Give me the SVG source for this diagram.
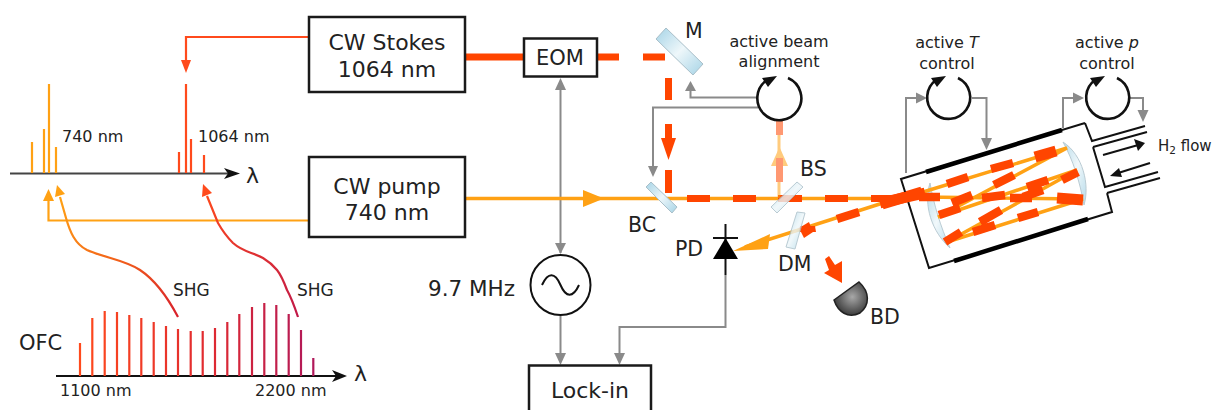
<svg xmlns="http://www.w3.org/2000/svg" width="1216" height="410" viewBox="0 0 1216 410">
<style>
text{font-family:"DejaVu Sans",Verdana,sans-serif;fill:#222}
.box{fill:#fff;stroke:#1a1a1a;stroke-width:2.5}
.big{font-size:22px;text-anchor:middle}
.lab{font-size:20.5px}
.sm{font-size:16px}
.ctl{font-size:16px;text-anchor:middle}
.g{fill:none;stroke:#8a8a8a;stroke-width:2}
.gh{fill:#8a8a8a}
.blk{fill:none;stroke:#111;stroke-width:2}
.c{fill:none;stroke:#111;stroke-width:2.6}
.o{fill:none;stroke:#ffa114;stroke-width:3.5}
.r{fill:none;stroke:#ff4500;stroke-width:7}
.rc{fill:none;stroke:#ff4500;stroke-width:8.5}
.rt{fill:none;stroke:#ff4500;stroke-width:11}
.ol{fill:none;stroke:#ffa114;stroke-width:2.2}
.rl{fill:none;stroke:#ff4a1c;stroke-width:2.2}
.opt{fill:url(#glass);stroke:#a9bfc9;stroke-width:1}
</style>
<defs>
<linearGradient id="glass" x1="0" y1="0" x2="1" y2="1"><stop offset="0" stop-color="#a5d3e6"/><stop offset=".5" stop-color="#eef7fa"/><stop offset="1" stop-color="#a5d3e6"/></linearGradient>
<linearGradient id="comb" gradientUnits="userSpaceOnUse" x1="80" y1="0" x2="314" y2="0"><stop offset="0" stop-color="#ff4a1c"/><stop offset=".55" stop-color="#e02a30"/><stop offset="1" stop-color="#b0185a"/></linearGradient>
<linearGradient id="shg1" gradientUnits="userSpaceOnUse" x1="60" y1="200" x2="178" y2="317"><stop offset="0" stop-color="#ffa114"/><stop offset=".5" stop-color="#f2601a"/><stop offset="1" stop-color="#d8202c"/></linearGradient>
<linearGradient id="shg2" gradientUnits="userSpaceOnUse" x1="205" y1="190" x2="298" y2="317"><stop offset="0" stop-color="#ff4a1c"/><stop offset="1" stop-color="#c01848"/></linearGradient>
<radialGradient id="bd" cx=".55" cy=".45" r=".6"><stop offset="0" stop-color="#a8a8a8"/><stop offset="1" stop-color="#333"/></radialGradient>
</defs>

<g id="connectors">
<path d="M309 37H186V62" class="rl"/><path d="M181 60L191 60L186 73Z" fill="#ff4a1c"/>
<path d="M309 220.500H48.500V198" class="ol"/><path d="M43 201L54 201L48.500 189Z" fill="#ffa114"/>
<path d="M178 317C168 298 155 280 140 270C125 260 105 258 87 250C75 244 70 232 66 218L60 197" fill="none" stroke="url(#shg1)" stroke-width="2.2"/><path d="M55 197L65 194L57 185Z" fill="#ffa114"/>
<path d="M298 317C294 305 291 297 287 290C284 282 281 275 277 270C272 264 268 261 263 258C252 252 243 252 233 243C226 236 222 230 218 223L207 196" fill="none" stroke="url(#shg2)" stroke-width="2.2"/><path d="M202 197L212 193L203 184Z" fill="#ff4a1c"/>
<path d="M560.500 88V253" class="g"/><path d="M555 90L566 90L560.500 78Z" class="gh"/><path d="M555 243L566 243L560.500 254Z" class="gh"/>
<path d="M560.500 316V355" class="g"/><path d="M555 353L566 353L560.500 365Z" class="gh"/>
<path d="M758 97.500H690.500V90" class="g"/><path d="M685 91L696 91L690.500 81Z" class="gh"/>
<path d="M758 107.500H653V168" class="g"/><path d="M648 166L658 166L653 177Z" class="gh"/>
<path d="M725.500 275V327H619.500V355" class="g"/><path d="M614 353L625 353L619.500 365Z" class="gh"/>
<path d="M906 173V98H918" class="g"/><path d="M916 92.500L916 103.500L927 98Z" class="gh"/>
<path d="M972 98H986.500V140" class="g"/><path d="M981 138L992 138L986.500 150Z" class="gh"/>
<path d="M1063 128V98H1075" class="g"/><path d="M1073 92.500L1073 103.500L1084 98Z" class="gh"/>
<path d="M1130 98H1143V112" class="g"/><path d="M1137.500 110L1148.500 110L1143 122Z" class="gh"/>
</g>

<g id="beams">
<path d="M466 198.500H905" class="o"/>
<path d="M583 190L604 198.500L583 207Z" fill="#ffa114"/>
<path d="M465 57H523M597 57H619M643 57H665" class="r"/>
<path d="M668.500 78V100M668.500 124V140M668.500 170V193" class="r"/>
<path d="M661 138H676L668.500 160Z" fill="#ff4500"/>
<path d="M687 198.500H710M733 198.500H756M778 198.500H802M825 198.500H848M871 198.500H894" class="r"/>
<g opacity=".55"><path d="M779 198V130" stroke="#ffa114" stroke-width="3" fill="none"/><path d="M771 166L788 166L779.500 147Z" fill="#ffa114"/><path d="M779.500 120V135M779.500 158V182" stroke="#ff4500" stroke-width="7" fill="none"/></g>
<path d="M886 202L745 247" class="o"/>
<path d="M770 234L768 249L733 251Z" fill="#ffa114"/>
<path d="M882 204L922 192" class="rt"/>
<path d="M837 219L859 212" class="rc"/>
<path d="M809 222L813 232L804 238L799 228Z" fill="#ff4500"/>
<path d="M800 226L815 226L816 232L800 232Z" fill="#ff4500"/>
<path d="M825 259L829 256L835 265L842 261L842 283L824 273L829 270Z" fill="#ff4500"/>
</g>

<g id="cell">
<path d="M1085 123L901 179L929 268L1112 212L1107 193M1085 123L1092 141L1145 126M1093 147L1147 132M1093 147L1105 187L1158 172M1107 193L1160 178" class="blk"/>
<path d="M926 172L1062 130M954 261L1088 219" fill="none" stroke="#000" stroke-width="4.500"/>
<path d="M1103 155L1140 144.500" class="blk"/><path d="M1134 139L1145 143L1138 151Z" fill="#111"/>
<path d="M1150 163L1115 174" class="blk"/><path d="M1119 168L1110 176L1122 177Z" fill="#111"/>
<path d="M930 183C923 205 932 232 950 248C940 225 934 205 930 183Z" class="opt" opacity=".8"/>
<path d="M1063 142C1083 155 1090 185 1084 205C1080 182 1073 160 1063 142Z" class="opt" opacity=".8"/>
<path d="M923 192L1067 148L938 217L1077 170L947 242L1083 199L923 197" fill="none" stroke="#ffa114" stroke-width="3.500"/>
<path d="M880 203L925 193" class="rt"/>
<path d="M919 197H940M947 184L968 177M991 169L1013 163M994 185L1014 175M952 203L972 195M939 215L960 208M982 198L1005 195M1010 198H1032M1023 197L1043 190M1027 187L1048 180M1062 180L1078 172M1018 218L1038 212M973 232L995 225M980 222L1001 210M945 242L961 232" class="rc"/>
<path d="M1035 157L1056 151M1057 198L1083 200" class="rt"/>
</g>

<g id="spectrum-top">
<path d="M10 173.500H232" fill="none" stroke="#444" stroke-width="2.200"/><path d="M224 168L240 173.500L224 179L228 173.500Z" fill="#111"/>
<path d="M32 173V142M44 173V129M49 173V84M56 173V147" class="ol"/>
<path d="M179 173V152M186 173V84M191 173V139M204 173V155" class="rl"/>
<text class="sm" x="62" y="142">740 nm</text>
<text class="sm" x="198" y="142">1064 nm</text>
<text x="246" y="183" style="font-size:22px">λ</text>
</g>

<g id="spectrum-ofc">
<path d="M56 376H339" fill="none" stroke="#111" stroke-width="2"/><path d="M332 370L347 376L332 382L336 376Z" fill="#111"/>
<path d="M80 376V343M92.300 376V318M104.700 376V311M117 376V312M129.300 376V315M141.300 376V318M153.700 376V322M166 376V326M178 376V329M190.700 376V331M202.700 376V331M215 376V328M227.300 376V322M239.300 376V314M252 376V307M264.300 376V303M276.300 376V305M288.700 376V314M301 376V330M313.300 376V358" fill="none" stroke="url(#comb)" stroke-width="2.200"/>
<text class="lab" x="19" y="350" style="font-size:21px">OFC</text>
<text class="sm" x="60" y="396">1100 nm</text>
<text class="sm" x="255" y="396">2200 nm</text>
<text x="173" y="296" style="font-size:17px">SHG</text>
<text x="297" y="296" style="font-size:17px">SHG</text>
<text x="354" y="381" style="font-size:22px">λ</text>
</g>

<g id="cw-stokes"><rect class="box" x="309" y="17" width="156" height="75"/><text class="big" x="387" y="50">CW Stokes</text><text class="big" x="387" y="77">1064 nm</text></g>
<g id="cw-pump"><rect class="box" x="309" y="157" width="156" height="80"/><text class="big" x="387" y="194">CW pump</text><text class="big" x="387" y="220">740 nm</text></g>
<g id="eom"><rect class="box" x="524" y="38.500" width="73" height="38"/><text x="560" y="65" style="font-size:21px;text-anchor:middle">EOM</text></g>
<g id="oscillator"><circle class="blk" cx="560.500" cy="285" r="30"/><path d="M542 285C548 272 555 272 560.500 285S573 298 579 285" class="blk"/><text x="428" y="296" style="font-size:21.500px">9.7 MHz</text></g>
<g id="lock-in"><path d="M529 412V365.500H651V412" class="box"/><text class="big" x="590" y="398">Lock-in</text></g>

<g id="mirror-m"><path class="opt" d="M666 28L703 64L693 75L656 39Z"/><text class="lab" x="685" y="38">M</text></g>
<g id="bc"><path class="opt" d="M651 182L677 207L672 213L646 187Z"/><text class="lab" x="628" y="232">BC</text></g>
<g id="bs"><path class="opt" opacity=".8" d="M797 182L803 187L777 213L771 207Z"/><text class="lab" x="800" y="176">BS</text></g>
<g id="dm"><path class="opt" opacity=".8" d="M797 212L805 213L795 249L786 247Z"/><text class="lab" x="778" y="271">DM</text></g>
<g id="pd"><path d="M725.500 224V275M713 238H738" class="blk"/><path d="M725.500 238L713 259H738Z" fill="#000"/><text class="lab" x="675" y="256">PD</text></g>
<g id="bd"><path d="M834 300L859 282C870 292 870 305 860 313C848 319 838 312 834 300Z" fill="url(#bd)" stroke="#222" stroke-width="1.500"/><text class="lab" x="870" y="324">BD</text></g>

<g id="ctl-align"><path class="c" d="M788 78A22 22 0 1 1 767 80"/><path d="M762 78L777 76L768 87Z" fill="#111"/><text class="ctl" x="779" y="47">active beam</text><text class="ctl" x="779" y="67">alignment</text></g>
<g id="ctl-t"><path class="c" d="M958 78A21.500 21.500 0 1 1 936 80"/><path d="M931 78L946 76L937 87Z" fill="#111"/><text class="ctl" x="947" y="48">active <tspan font-style="italic">T</tspan></text><text class="ctl" x="947" y="69">control</text></g>
<g id="ctl-p"><path class="c" d="M1117 78A21.500 21.500 0 1 1 1095 80"/><path d="M1090 78L1105 76L1096 87Z" fill="#111"/><text class="ctl" x="1107" y="48">active <tspan font-style="italic">p</tspan></text><text class="ctl" x="1107" y="69">control</text></g>
<g id="h2-label"><text x="1158" y="151" style="font-size:15px">H<tspan font-size="10.500" dy="3">2</tspan><tspan dy="-3"> flow</tspan></text></g>
</svg>
